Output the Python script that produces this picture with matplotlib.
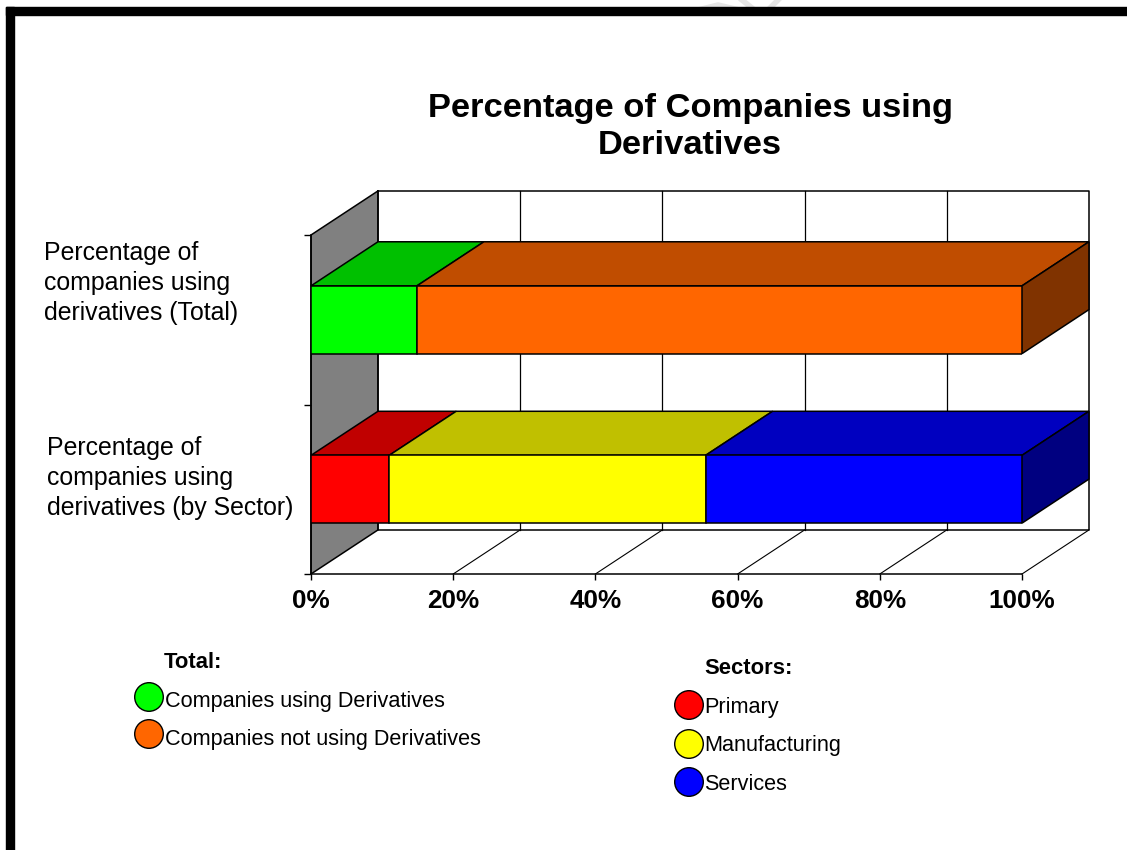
import matplotlib
matplotlib.use('Agg')
import matplotlib.pyplot as plt
from matplotlib.patches import Rectangle, Circle

plt.rcParams['font.family'] = ['Liberation Sans', 'DejaVu Sans']

W, H = 1127, 850

title = 'Percentage of Companies using\nDerivatives'
categories = ['Percentage of\ncompanies using\nderivatives (by Sector)',
              'Percentage of\ncompanies using\nderivatives (Total)']
x_ticks = [0, 20, 40, 60, 80, 100]
x_labels = ['0%', '20%', '40%', '60%', '80%', '100%']

total_names = ['Companies using Derivatives', 'Companies not using Derivatives']
total_values = [14.9, 85.1]
sector_names = ['Primary', 'Manufacturing', 'Services']
sector_values = [11, 44.5, 44.5]

# face colour, top colour
total_colors = [('#00ff00', '#00c000'), ('#ff6600', '#c04d00')]
total_side = '#803300'
sector_colors = [('#ff0000', '#c00000'), ('#ffff00', '#c0c000'), ('#0000ff', '#0000c0')]
sector_side = '#000080'

# 3d offset in data units
DX = 9.42
DY = 0.26
BAR_H = 0.4


def draw_stack(ax, y, values, colors, side):
    left = 0
    for v, (face, top) in zip(values, colors):
        ax.fill([left, left + v, left + v + DX, left + DX],
                [y + BAR_H / 2, y + BAR_H / 2, y + BAR_H / 2 + DY, y + BAR_H / 2 + DY],
                facecolor=top, edgecolor='black', lw=1.1, zorder=4, clip_on=False)
        ax.barh(y, v, BAR_H, left=left, color=face, edgecolor='black', lw=1.1, zorder=5)
        left += v
    ax.fill([left, left + DX, left + DX, left],
            [y - BAR_H / 2, y - BAR_H / 2 + DY, y + BAR_H / 2 + DY, y + BAR_H / 2],
            facecolor=side, edgecolor='black', lw=1.1, zorder=4, clip_on=False)


def main():
    fig = plt.figure(figsize=(W / 100, H / 100), dpi=100)

    # page frame
    bg = fig.add_axes([0, 0, 1, 1])
    bg.set_xlim(0, W)
    bg.set_ylim(H, 0)
    bg.axis('off')
    # bit of watermark showing above the frame
    bg.plot([702, 718, 735], [9, 5, 9], color='#e6e6e6', lw=4, zorder=0.5)
    bg.plot([742, 752], [0, 8], color='#e6e6e6', lw=4, zorder=0.5)
    bg.plot([778, 770], [0, 8], color='#e6e6e6', lw=4, zorder=0.5)
    bg.add_patch(Rectangle((6, 7), W - 6, 8, color='black', zorder=1))
    bg.add_patch(Rectangle((6, 7), 8, H - 7, color='black', zorder=1))

    ax = fig.add_axes([311 / W, 1 - 574 / H, 711 / W, 339 / H])
    ax.patch.set_visible(False)
    ax.set_xlim(0, 100)
    ax.set_ylim(-0.5, 1.5)
    for s in ['top', 'right']:
        ax.spines[s].set_visible(False)
    for s in ['left', 'bottom']:
        ax.spines[s].set_linewidth(1.1)

    # side wall and floor
    ax.fill([0, DX, DX, 0], [-0.5, -0.5 + DY, 1.5 + DY, 1.5],
            facecolor='#808080', edgecolor='black', lw=1.1, zorder=1, clip_on=False)
    ax.plot([DX, 100 + DX, 100 + DX, DX, DX], [1.5 + DY, 1.5 + DY, -0.5 + DY, -0.5 + DY, 1.5 + DY],
            color='black', lw=1.1, zorder=1, clip_on=False)
    ax.plot([100, 100 + DX], [-0.5, -0.5 + DY], color='black', lw=0.8, zorder=1, clip_on=False)
    for t in x_ticks[1:-1]:
        ax.plot([t + DX, t + DX], [-0.5 + DY, 1.5 + DY], color='black', lw=0.9, zorder=1, clip_on=False)
        ax.plot([t, t + DX], [-0.5, -0.5 + DY], color='black', lw=0.8, zorder=1, clip_on=False)

    draw_stack(ax, 0, sector_values, sector_colors, sector_side)
    draw_stack(ax, 1, total_values, total_colors, total_side)

    ax.set_xticks(x_ticks)
    ax.set_xticklabels(x_labels, fontsize=18.8, fontweight='bold')
    ax.tick_params(axis='x', length=4, width=1, pad=7)
    ax.set_yticks([-0.5, 0.5, 1.5])
    ax.set_yticklabels([])
    ax.tick_params(axis='y', length=5, width=1)

    # category labels sit left of the axis
    bg.text(44, 283, categories[1], fontsize=17.9, va='center', ha='left', linespacing=1.34)
    bg.text(47, 478, categories[0], fontsize=17.9, va='center', ha='left', linespacing=1.34)

    bg.text(690, 127, title, fontsize=24.8, fontweight='bold', ha='center', va='center', linespacing=1.27)

    # legends
    bg.text(164, 662, 'Total:', fontsize=15.8, fontweight='bold', va='center')
    for name, (face, _), y in zip(total_names, total_colors, [697, 734]):
        bg.add_patch(Circle((149, y), 14.3, facecolor=face, edgecolor='black', lw=1))
    for name, y in zip(total_names, [701, 739]):
        bg.text(165, y, name, fontsize=15.6, va='center')

    bg.text(704.5, 669, 'Sectors:', fontsize=15.8, fontweight='bold', va='center')
    for name, (face, _), y in zip(sector_names, sector_colors, [705, 744, 782]):
        bg.add_patch(Circle((689, y), 14.3, facecolor=face, edgecolor='black', lw=1))
        bg.text(704, y + 2, name, fontsize=15.6, va='center')

    fig.savefig('out.png', dpi=100)


if __name__ == '__main__':
    main()
